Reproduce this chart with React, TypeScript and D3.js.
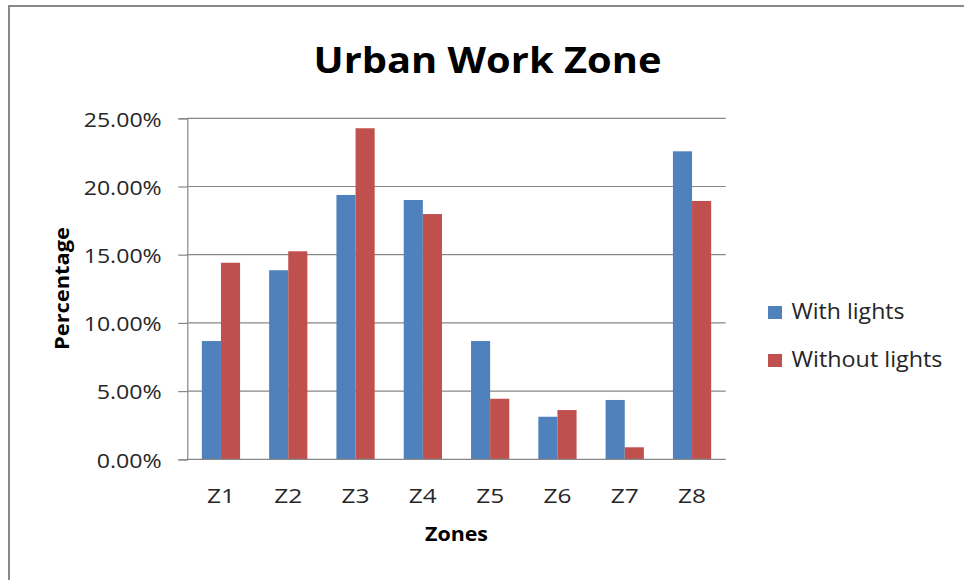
import React, { useEffect, useRef } from 'react';
import * as d3 from 'd3';

const zones = ['Z1', 'Z2', 'Z3', 'Z4', 'Z5', 'Z6', 'Z7', 'Z8'];
const withLights = [0.0867, 0.1386, 0.1938, 0.1901, 0.0867, 0.0312, 0.0435, 0.2258];
const withoutLights = [0.1441, 0.1525, 0.2427, 0.1798, 0.0444, 0.0361, 0.0088, 0.1894];
const seriesNames = ['With lights', 'Without lights'];
const yTicks = [0, 0.05, 0.1, 0.15, 0.2, 0.25];

const FONT = '"Open Sans", Calibri, sans-serif';

const App = () => {
	const chartRef = useRef<SVGSVGElement>(null);

	useEffect(() => {
		if (!chartRef.current) return;
		const W = 964;
		const H = 580;
		const margin = { top: 118.3, right: 238.3, bottom: 120.7, left: 187.3 };
		const width = W - margin.left - margin.right;
		const height = H - margin.top - margin.bottom;

		const root = d3.select(chartRef.current);
		root.selectAll('*').remove();

		root.append('rect')
			.attr('width', W)
			.attr('height', H)
			.attr('fill', '#fff');

		// chart area border
		root.append('rect')
			.attr('x', 9)
			.attr('y', 6)
			.attr('width', W + 20)
			.attr('height', H + 20)
			.attr('fill', 'none')
			.attr('stroke', '#898989')
			.attr('stroke-width', 2);

		root.append('text')
			.attr('x', 487.5)
			.attr('y', 73)
			.attr('text-anchor', 'middle')
			.attr('font-family', FONT)
			.attr('font-weight', 700)
			.attr('font-size', 35)
			.attr('fill', '#000')
			.attr('textLength', 348)
			.attr('lengthAdjust', 'spacingAndGlyphs')
			.text('Urban Work Zone');

		const svg = root.append('g')
			.attr('transform', `translate(${margin.left},${margin.top})`);

		const x0 = d3.scaleBand().domain(zones).range([0, width]).padding(0);
		const x1 = d3.scaleBand().domain(seriesNames).range([0, x0.bandwidth()]).paddingInner(0).paddingOuter(0.76);
		const y = d3.scaleLinear().domain([0, 0.25]).range([height, 0]);
		const color = d3.scaleOrdinal<string>().domain(seriesNames).range(['#4F81BD', '#C0504D']);

		// gridlines
		svg.append('g')
			.selectAll('line')
			.data(yTicks.slice(1))
			.join('line')
			.attr('x1', 0)
			.attr('x2', width)
			.attr('y1', d => y(d))
			.attr('y2', d => y(d))
			.attr('stroke', '#878787')
			.attr('stroke-width', 1.2);

		const rows = zones.map((z, i) => ({ zone: z, values: [withLights[i], withoutLights[i]] }));

		svg.append('g')
			.selectAll('g')
			.data(rows)
			.join('g')
			.attr('transform', d => `translate(${x0(d.zone)},0)`)
			.selectAll('rect')
			.data(d => d.values.map((v, k) => ({ key: seriesNames[k], value: v })))
			.join('rect')
			.attr('x', d => x1(d.key) as number)
			.attr('y', d => y(d.value))
			.attr('width', x1.bandwidth())
			.attr('height', d => height - y(d.value))
			.attr('fill', d => color(d.key));

		// y axis
		const yAxis = svg.append('g')
			.call(d3.axisLeft(y).tickValues(yTicks).tickSize(9).tickPadding(0).tickFormat(() => ''));
		yAxis.select('.domain').attr('stroke', '#878787').attr('stroke-width', 1.2);
		yAxis.selectAll('.tick line').attr('stroke', '#878787').attr('stroke-width', 1.2);

		svg.append('g')
			.selectAll('text')
			.data(yTicks)
			.join('text')
			.attr('x', -25.6)
			.attr('y', d => y(d) + 8.4)
			.attr('text-anchor', 'end')
			.attr('font-family', FONT)
			.attr('font-size', 20.5)
			.attr('fill', '#262626')
			.attr('textLength', d => (d < 0.1 ? 65 : 78))
			.attr('lengthAdjust', 'spacingAndGlyphs')
			.text(d => d3.format('.2%')(d));

		// x axis
		svg.append('line')
			.attr('x1', 0)
			.attr('x2', width)
			.attr('y1', height)
			.attr('y2', height)
			.attr('stroke', '#878787')
			.attr('stroke-width', 1.2);

		svg.append('g')
			.selectAll('text')
			.data(zones)
			.join('text')
			.attr('x', d => (x0(d) as number) + x0.bandwidth() / 2)
			.attr('y', height + 43.4)
			.attr('text-anchor', 'middle')
			.attr('font-family', FONT)
			.attr('font-size', 20.5)
			.attr('fill', '#262626')
			.attr('textLength', 28)
			.attr('lengthAdjust', 'spacingAndGlyphs')
			.text(d => d);

		svg.append('text')
			.attr('x', width / 2)
			.attr('y', height + 81.7)
			.attr('text-anchor', 'middle')
			.attr('font-family', FONT)
			.attr('font-weight', 700)
			.attr('font-size', 19.5)
			.attr('fill', '#000')
			.attr('textLength', 63)
			.attr('lengthAdjust', 'spacingAndGlyphs')
			.text('Zones');

		svg.append('text')
			.attr('transform', `translate(${-118.3},${288.5 - margin.top}) rotate(-90)`)
			.attr('text-anchor', 'middle')
			.attr('font-family', FONT)
			.attr('font-weight', 700)
			.attr('font-size', 19.5)
			.attr('fill', '#000')
			.attr('textLength', 123)
			.attr('lengthAdjust', 'spacingAndGlyphs')
			.text('Percentage');

		// legend
		const legend = root.append('g').attr('transform', 'translate(768,306)');
		const legendWidths = [113, 151];
		seriesNames.forEach((key, i) => {
			const item = legend.append('g').attr('transform', `translate(0,${i * 48})`);
			item.append('rect')
				.attr('width', 14)
				.attr('height', 13)
				.attr('fill', color(key));
			item.append('text')
				.attr('x', 23.5)
				.attr('y', 13.3)
				.attr('font-family', FONT)
				.attr('font-size', 21)
				.attr('fill', '#262626')
				.attr('textLength', legendWidths[i])
				.attr('lengthAdjust', 'spacingAndGlyphs')
				.text(key);
		});
	}, []);

	return (
		<svg
			ref={chartRef}
			width={964}
			height={580}
			style={{ position: 'absolute', left: 0, top: 0, display: 'block' }}
		/>
	);
};

export default App;
